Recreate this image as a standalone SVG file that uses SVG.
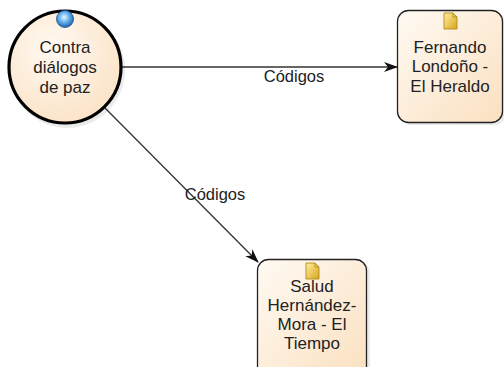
<svg xmlns="http://www.w3.org/2000/svg" width="504" height="367" viewBox="0 0 504 367">
<defs>
<style>
.nt{font-family:"Liberation Sans",Arial,sans-serif;font-size:17px;fill:#222;text-anchor:middle}
.lb{font-family:"Liberation Sans",Arial,sans-serif;font-size:16.5px;fill:#222;text-anchor:middle}
.edge{stroke:#333;stroke-width:1.3;fill:none;marker-end:url(#arr)}
.box{fill:url(#peach);stroke:#222;stroke-width:1.3}
.shadow{fill:#000;opacity:0.08}
</style>
<linearGradient id="peach" x1="0" y1="0" x2="1" y2="1">
<stop offset="0" stop-color="#fffaf3"/>
<stop offset="1" stop-color="#fbe0c0"/>
</linearGradient>
<radialGradient id="circ" cx="0.4" cy="0.35" r="0.7">
<stop offset="0" stop-color="#fffaf3"/>
<stop offset="1" stop-color="#fbe2c5"/>
</radialGradient>
<radialGradient id="blue" cx="0.45" cy="0.4" r="0.6">
<stop offset="0" stop-color="#e8f6ff"/>
<stop offset="0.45" stop-color="#6fb8f0"/>
<stop offset="1" stop-color="#1c5fb0"/>
</radialGradient>
<linearGradient id="doc" x1="0" y1="0" x2="1" y2="1">
<stop offset="0" stop-color="#fff0a0"/>
<stop offset="1" stop-color="#d7a41c"/>
</linearGradient>
<g id="docicon">
<path d="M-6,-8 L3,-8 L7,-4 L7,8 L-6,8 Z" fill="url(#doc)" stroke="#b38a16" stroke-width="0.9"/>
<path d="M3,-8 L3,-4 L7,-4" fill="none" stroke="#b38a16" stroke-width="0.9"/>
</g>
<marker id="arr" viewBox="0 0 14 10" refX="13" refY="5" markerWidth="14" markerHeight="10" markerUnits="userSpaceOnUse" orient="auto">
<path d="M0,0 L14,5 L0,10 L4,5 Z" fill="#111"/>
</marker>
</defs>
<rect width="504" height="367" fill="#fff"/>
<g id="connectors">
<line class="edge" x1="121" y1="67" x2="397" y2="67"/>
<line class="edge" x1="105" y1="108" x2="258" y2="262"/>
<text class="lb" x="294" y="82">Códigos</text>
<text class="lb" x="215" y="200">Códigos</text>
</g>
<g id="node-contra">
<circle class="shadow" cx="67" cy="70" r="58"/>
<circle cx="65" cy="67" r="56" fill="url(#circ)" stroke="#000" stroke-width="3.2"/>
<circle cx="65" cy="19" r="8.5" fill="url(#blue)" stroke="#1a4f95" stroke-width="0.8"/>
<text class="nt" x="65" y="53">Contra</text>
<text class="nt" x="65" y="73">diálogos</text>
<text class="nt" x="65" y="93">de paz</text>
</g>
<g id="node-fernando">
<rect class="shadow" x="400" y="13" width="106" height="112" rx="11"/>
<rect class="box" x="397.5" y="10.5" width="105" height="112" rx="11"/>
<use href="#docicon" x="450" y="21"/>
<text class="nt" x="450" y="53">Fernando</text>
<text class="nt" x="450" y="72">Londoño -</text>
<text class="nt" x="450" y="92">El Heraldo</text>
</g>
<g id="node-salud">
<rect class="shadow" x="260" y="262" width="110" height="120" rx="11"/>
<rect class="box" x="257.5" y="259.5" width="109" height="118" rx="11"/>
<use href="#docicon" x="312" y="271"/>
<text class="nt" x="312" y="292">Salud</text>
<text class="nt" x="312" y="311">Hernández-</text>
<text class="nt" x="312" y="330">Mora - El</text>
<text class="nt" x="312" y="349">Tiempo</text>
</g>
</svg>
